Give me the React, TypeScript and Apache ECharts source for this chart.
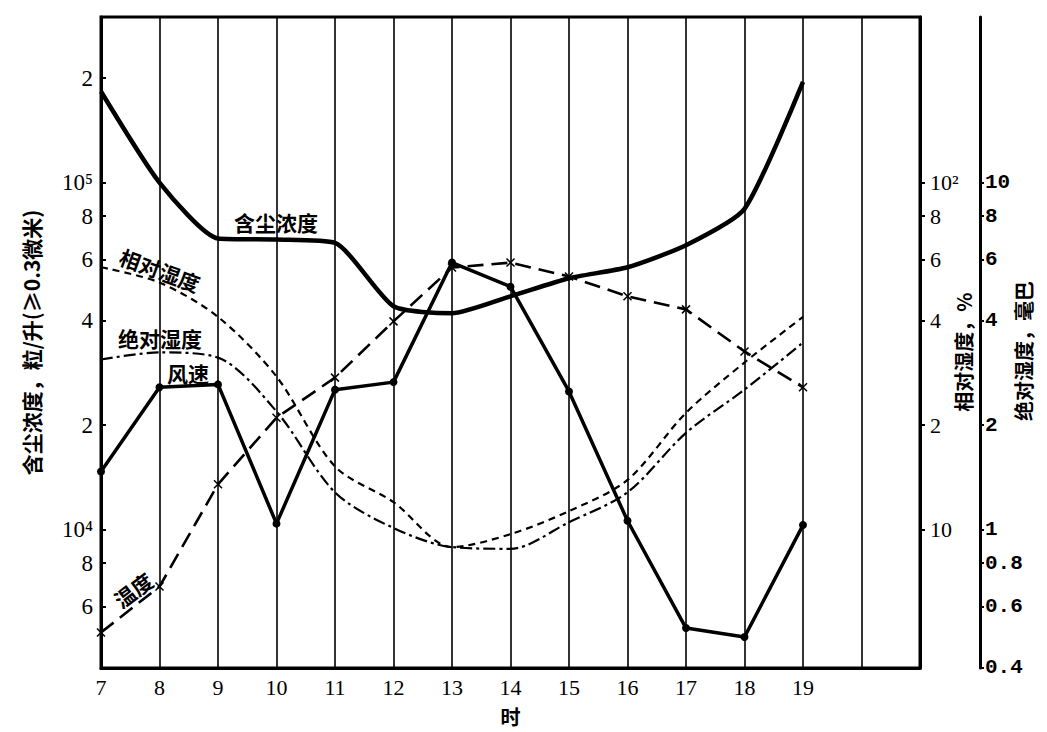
import React, { useEffect, useRef } from "react";
import * as echarts from "echarts";

const hours = [7, 8, 9, 10, 11, 12, 13, 14, 15, 16, 17, 18, 19];
// 含尘浓度, 粒/升
const dust = [183000, 100000, 69000, 68500, 67000, 44000, 42000, 47000, 53000, 57000, 66000, 84000, 195000];
// 相对湿度, %
const relHum = [57, 51.5, 41, 27.6, 15.2, 12, 8.9, 9.7, 11.3, 13.9, 21.7, 30.3, 41];
// 绝对湿度, 毫巴
const absHum = [3.09, 3.24, 3.13, 2.19, 1.28, 1.01, 0.89, 0.88, 1.05, 1.28, 1.9, 2.53, 3.46];
// 风速 (read on left scale)
const wind = [14700, 25700, 26200, 10400, 25300, 26600, 58800, 50100, 25000, 10600, 5200, 4900, 10300];
// 温度 (read on left scale)
const temp = [5050, 6850, 13500, 21000, 27400, 39800, 56900, 58800, 53600, 47000, 43100, 32600, 25700];

const leftTicks = [6000, 8000, 10000, 20000, 40000, 60000, 80000, 100000, 200000];
const rightTicks1 = [10, 20, 40, 60, 80, 100];
const rightTicks2 = [0.4, 0.6, 0.8, 1, 2, 4, 6, 8, 10];

const CJK = '"Noto Sans CJK SC", sans-serif';
const NUM = '"Liberation Serif", serif';
const MONO = '"Liberation Mono", monospace';

export default function App() {
  const ref = useRef<HTMLDivElement>(null);
  useEffect(() => {
    if (!ref.current) return;
    const chart = echarts.init(ref.current, null, { renderer: "svg" });
    const pair = (arr: number[]) => hours.map((h, i) => [h, arr[i]]);
    const leftFmt = (v: number) => {
      if (Math.abs(v - 10000) < 1) return "10⁴";
      if (Math.abs(v - 100000) < 1) return "10⁵";
      const e = Math.floor(Math.log10(v) + 1e-9);
      return String(Math.round(v / Math.pow(10, e)));
    };
    const r1Fmt = (v: number) => {
      if (Math.abs(v - 100) < 0.01) return "10²";
      if (Math.abs(v - 10) < 0.01) return "10";
      return String(Math.round(v / 10));
    };
    const r2Fmt = (v: number) => String(v);
    const option: any = {
      animation: false,
      backgroundColor: "#fff",
      grid: {
        left: 101,
        right: 127,
        top: 17,
        bottom: 64,
        show: true,
        borderColor: "#000",
        borderWidth: 3,
        outerBoundsMode: "none",
        containLabel: false,
      },
      xAxis: {
        type: "value",
        min: 7,
        max: 21,
        interval: 1,
        name: "时",
        nameLocation: "middle",
        nameGap: 38,
        nameTextStyle: { fontFamily: CJK, fontWeight: "bold", fontSize: 20, color: "#000" },
        axisLine: { lineStyle: { color: "#000", width: 3 } },
        axisTick: { show: false },
        axisLabel: {
          color: "#000",
          fontFamily: NUM,
          fontSize: 22,
          margin: 8,
          formatter: (v: number) => (v <= 19 ? String(v) : ""),
        },
        splitLine: { show: true, lineStyle: { color: "#000", width: 1.6 } },
      },
      yAxis: [
        {
          type: "log",
          min: 3990,
          max: 300000,
          position: "left",
          name: "含尘浓度，粒/升(≥0.3微米)",
          nameLocation: "middle",
          nameRotate: 90,
          nameGap: 60,
          nameTextStyle: { fontFamily: CJK, fontWeight: "bold", fontSize: 21, color: "#000" },
          axisLine: { show: true, lineStyle: { color: "#000", width: 3 } },
          axisTick: { show: true, inside: true, length: 5, customValues: leftTicks, lineStyle: { color: "#000", width: 2 } },
          axisLabel: { color: "#000", fontFamily: NUM, fontSize: 23, margin: 8, customValues: leftTicks, formatter: leftFmt },
          splitLine: { show: false },
          minorTick: { show: false },
        },
        {
          type: "log",
          min: 3.99,
          max: 300,
          position: "right",
          axisLine: { show: true, lineStyle: { color: "#000", width: 3 } },
          axisTick: { show: true, length: 5, customValues: rightTicks1, lineStyle: { color: "#000", width: 2 } },
          axisLabel: { color: "#000", fontFamily: NUM, fontSize: 22, margin: 10, customValues: rightTicks1, formatter: r1Fmt },
          splitLine: { show: false },
        },
        {
          type: "log",
          min: 0.399,
          max: 30,
          position: "right",
          offset: 60,
          axisLine: { show: true, lineStyle: { color: "#000", width: 3 } },
          axisTick: { show: true, length: 4, customValues: rightTicks2, lineStyle: { color: "#000", width: 2 } },
          axisLabel: { color: "#000", fontFamily: MONO, fontWeight: "bold", fontSize: 21, margin: 5, customValues: rightTicks2, formatter: r2Fmt },
          splitLine: { show: false },
        },
      ],
      series: [
        {
          name: "含尘浓度",
          type: "line",
          yAxisIndex: 0,
          data: pair(dust),
          smooth: 0.2,
          showSymbol: false,
          lineStyle: { color: "#000", width: 4.5 },
        },
        {
          name: "相对湿度",
          type: "line",
          yAxisIndex: 1,
          data: pair(relHum),
          smooth: 0.3,
          showSymbol: false,
          lineStyle: { color: "#000", width: 2.2, type: [7, 5] },
        },
        {
          name: "绝对湿度",
          type: "line",
          yAxisIndex: 2,
          data: pair(absHum),
          smooth: 0.3,
          showSymbol: false,
          lineStyle: { color: "#000", width: 2.2, type: [12, 4, 3, 4] },
        },
        {
          name: "风速",
          type: "line",
          yAxisIndex: 0,
          data: pair(wind),
          symbol: "circle",
          symbolSize: 8,
          itemStyle: { color: "#000" },
          lineStyle: { color: "#000", width: 3.5 },
        },
        {
          name: "温度",
          type: "line",
          yAxisIndex: 0,
          data: pair(temp),
          symbol: "path://M0 0L10 10M10 0L0 10",
          symbolSize: 8,
          itemStyle: { color: "transparent", borderColor: "#000", borderWidth: 1.5 },
          lineStyle: { color: "#000", width: 2.6, type: [16, 8] },
        },
      ],
      graphic: [
        { type: "text", x: 276, y: 222, style: { text: "含尘浓度", font: `bold 21px ${CJK}`, fill: "#000", align: "center", verticalAlign: "middle" } },
        { type: "text", x: 160, y: 270, rotation: -0.35, style: { text: "相对湿度", font: `bold 21px ${CJK}`, fill: "#000", align: "center", verticalAlign: "middle" } },
        { type: "text", x: 160, y: 338, style: { text: "绝对湿度", font: `bold 21px ${CJK}`, fill: "#000", align: "center", verticalAlign: "middle" } },
        { type: "text", x: 188, y: 373, style: { text: "风速", font: `bold 21px ${CJK}`, fill: "#000", align: "center", verticalAlign: "middle" } },
        { type: "text", x: 133, y: 590, rotation: 0.65, style: { text: "温度", font: `bold 21px ${CJK}`, fill: "#000", align: "center", verticalAlign: "middle" } },
        { type: "text", x: 963, y: 352, rotation: Math.PI / 2, style: { text: "相对湿度，%", font: `bold 20px ${CJK}`, fill: "#000", align: "center", verticalAlign: "middle" } },
        { type: "text", x: 1023, y: 351, rotation: Math.PI / 2, style: { text: "绝对湿度，毫巴", font: `bold 20px ${CJK}`, fill: "#000", align: "center", verticalAlign: "middle" } },
      ],
    };
    chart.setOption(option);
    return () => chart.dispose();
  }, []);
  return <div ref={ref} style={{ position: "absolute", left: 0, top: 0, width: 1047, height: 732, background: "#fff" }} />;
}
